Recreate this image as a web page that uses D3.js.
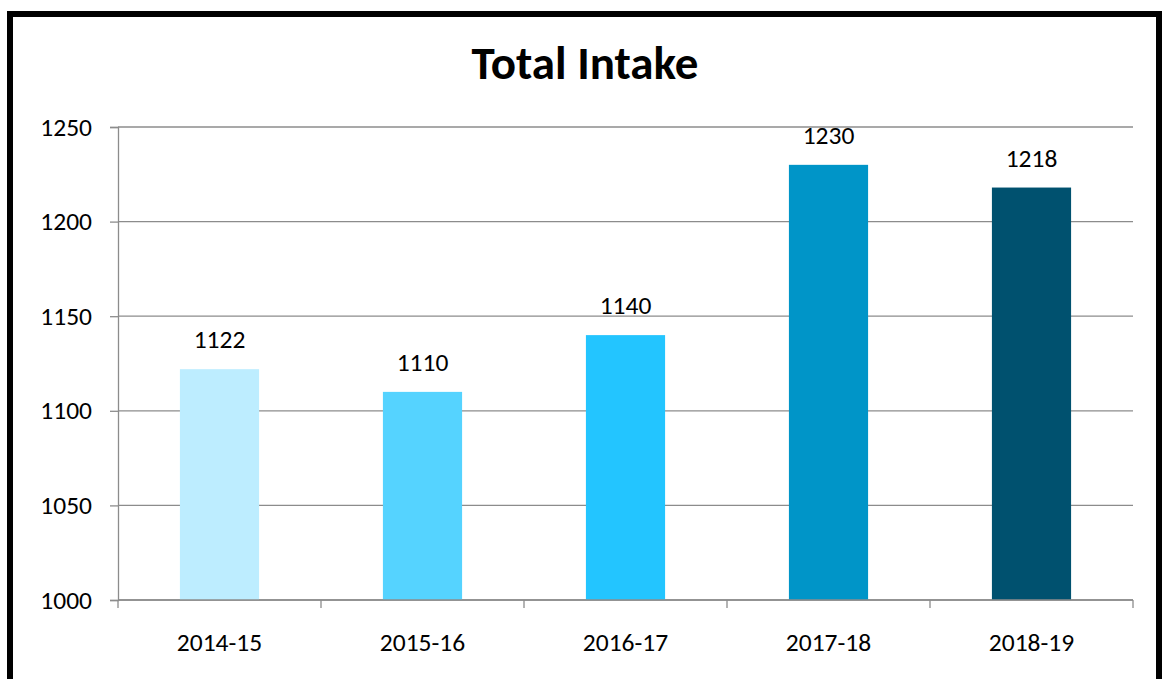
<!DOCTYPE html>
<html>
<head>
<meta charset="utf-8">
<script src="https://cdn.jsdelivr.net/npm/d3@7"></script>
<style>
  body { margin: 0; background: #fff; }
  text { font-family: Carlito, 'Open Sans', sans-serif; }
</style>
</head>
<body>
<script>
const years = ['2014-15', '2015-16', '2016-17', '2017-18', '2018-19'];
const intake = [1122, 1110, 1140, 1230, 1218];
const barColors = ['#bdedff', '#55d3ff', '#23c5ff', '#0095c8', '#00516f'];
const yTicks = [1000, 1050, 1100, 1150, 1200, 1250];

const width = 1163, height = 679;
const margin = {top: 127, right: 30, bottom: 79, left: 118};
const labelSize = '25.5px';

let svg = d3.select('body')
    .append('svg')
    .attr('width', width)
    .attr('height', height);

// frame
svg.append('rect')
    .attr('x', 10)
    .attr('y', 14)
    .attr('width', 1149)
    .attr('height', 700)
    .attr('fill', 'none')
    .attr('stroke', '#000')
    .attr('stroke-width', 6);

svg.append('text')
    .attr('x', 585)
    .attr('y', 79)
    .attr('text-anchor', 'middle')
    .style('font-size', '47px')
    .style('font-weight', 'bold')
    .text('Total Intake');

let x = d3.scaleBand()
    .domain(years)
    .range([margin.left, width - margin.right]);

let y = d3.scaleLinear()
    .domain([1000, 1250])
    .range([height - margin.bottom, margin.top]);

// gridlines
svg.append('g')
    .selectAll('line')
    .data(yTicks)
    .enter()
    .append('line')
    .attr('x1', margin.left)
    .attr('x2', width - margin.right)
    .attr('y1', d => y(d))
    .attr('y2', d => y(d))
    .attr('stroke', '#8c8c8c')
    .attr('stroke-width', 1.3);

const barW = x.bandwidth() * 0.39;

svg.append('g')
    .selectAll('rect')
    .data(intake)
    .enter()
    .append('rect')
    .attr('x', (d, i) => x(years[i]) + (x.bandwidth() - barW) / 2)
    .attr('y', d => y(d))
    .attr('width', barW)
    .attr('height', d => y(1000) - y(d))
    .attr('fill', (d, i) => barColors[i]);

svg.append('g')
    .selectAll('text')
    .data(intake)
    .enter()
    .append('text')
    .attr('x', (d, i) => x(years[i]) + x.bandwidth() / 2)
    .attr('y', d => y(d) - 21)
    .attr('text-anchor', 'middle')
    .style('font-size', labelSize)
    .text(d => d);

// y axis
let yAxis = svg.append('g')
    .attr('transform', `translate(${margin.left},0)`)
    .call(d3.axisLeft(y).tickValues(yTicks).tickFormat(d3.format('d')).tickSize(8).tickPadding(18));

// x axis
let xAxis = svg.append('g')
    .attr('transform', `translate(0,${height - margin.bottom})`)
    .call(d3.axisBottom(x).tickSize(0).tickPadding(33));

svg.append('g')
    .selectAll('line')
    .data(years.concat(['end']))
    .enter()
    .append('line')
    .attr('x1', (d, i) => margin.left + i * x.bandwidth())
    .attr('x2', (d, i) => margin.left + i * x.bandwidth())
    .attr('y1', height - margin.bottom)
    .attr('y2', height - margin.bottom + 8)
    .attr('stroke', '#8c8c8c')
    .attr('stroke-width', 1.3);

[yAxis, xAxis].forEach(g => {
    g.selectAll('path, line').attr('stroke', '#8c8c8c').attr('stroke-width', 1.3);
    g.selectAll('text')
        .attr('fill', '#000')
        .style('font-size', labelSize)
        .style('font-family', "Carlito, 'Open Sans', sans-serif");
});
xAxis.select('.domain').attr('d', `M${margin.left},0H${width - margin.right}`);
</script>
</body>
</html>
